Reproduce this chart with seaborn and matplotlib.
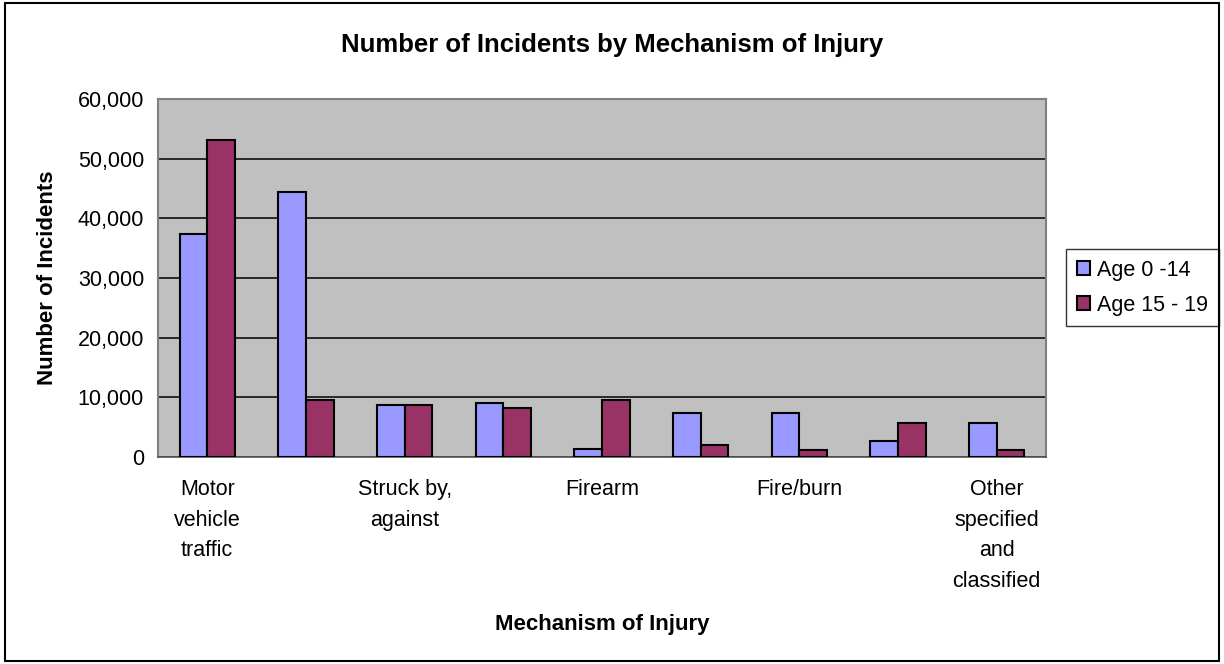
import pandas as pd
import matplotlib.pyplot as plt
import seaborn as sns
from matplotlib.patches import Rectangle

# Data (only every other category is labelled in the original)
mechanisms = ["Motor\nvehicle\ntraffic", "Fall", "Struck by,\nagainst", "Cut/pierce",
              "Firearm", "Pedal cyclist", "Fire/burn", "Poisoning",
              "Other\nspecified\nand\nclassified"]
shown = [True, False, True, False, True, False, True, False, True]
age_0_14 = [37400, 44500, 8700, 9000, 1300, 7300, 7300, 2700, 5700]
age_15_19 = [53200, 9600, 8700, 8300, 9600, 2000, 1200, 5700, 1200]
groups = ["Age 0 -14", "Age 15 - 19"]
colors = ["#9999FF", "#993366"]

df = pd.DataFrame({
    "mechanism": mechanisms * 2,
    "count": age_0_14 + age_15_19,
    "age": [groups[0]] * len(mechanisms) + [groups[1]] * len(mechanisms),
})

sns.set_style("white")
plt.rcParams["font.family"] = ["Liberation Sans", "DejaVu Sans"]
plt.rcParams["text.color"] = "black"
plt.rcParams["axes.labelcolor"] = "black"
plt.rcParams["xtick.color"] = "black"
plt.rcParams["ytick.color"] = "black"

fig = plt.figure(figsize=(12.24, 6.64), dpi=100)
ax = fig.add_axes([0.129, 0.3117, 0.7255, 0.539])
ax.set_facecolor("#C0C0C0")

sns.barplot(data=df, x="mechanism", y="count", hue="age", order=mechanisms,
            hue_order=groups, palette=colors, width=0.56, saturation=1,
            edgecolor="black", linewidth=1.5, ax=ax, zorder=3)

# gridlines and axes
ax.set_ylim(0, 60000)
ax.set_yticks(range(0, 60001, 10000))
ax.set_yticklabels([f"{v:,}" for v in range(0, 60001, 10000)], fontsize=15.5)
ax.yaxis.grid(True, color="black", linewidth=1.1, zorder=1)
ax.set_axisbelow(True)
ax.set_xlim(-0.5, len(mechanisms) - 0.5)

ax.set_xticks(range(len(mechanisms)))
ax.set_xticklabels([m if s else "" for m, s in zip(mechanisms, shown)],
                   fontsize=15.5, linespacing=1.6, va="top")
ax.set_xticks([i - 0.5 for i in range(len(mechanisms) + 1)], minor=True)
ax.tick_params(axis="x", which="major", length=0, pad=16)
ax.tick_params(axis="x", which="minor", length=6, width=1, color="#555555",
               direction="out")
ax.tick_params(axis="y", length=6, width=1, color="#555555", direction="out", pad=4)

for side in ["top", "right", "left"]:
    ax.spines[side].set_color("#808080")
    ax.spines[side].set_linewidth(1.5)
ax.spines["bottom"].set_color("#555555")
ax.spines["bottom"].set_linewidth(1.2)

ax.set_xlabel("Mechanism of Injury", fontsize=16, fontweight="bold", labelpad=16)
ax.set_ylabel("Number of Incidents", fontsize=16, fontweight="bold", labelpad=14)
fig.suptitle("Number of Incidents by Mechanism of Injury", fontsize=18.5,
             fontweight="bold", x=0.5, y=0.95)

# legend at right, like the original
handles, labels = ax.get_legend_handles_labels()
ax.legend(handles, labels, loc="center left", bbox_to_anchor=(0.871, 0.567),
          bbox_transform=fig.transFigure, fontsize=15.5, frameon=True,
          fancybox=False, edgecolor="black", handlelength=0.6,
          handleheight=0.6, handletextpad=0.35, borderpad=0.5,
          labelspacing=0.65, borderaxespad=0)
ax.get_legend().get_frame().set_linewidth(1.0)

# outer chart border
fig.patches.append(Rectangle((0.004, 0.005), 0.992, 0.99, transform=fig.transFigure,
                             fill=False, edgecolor="black", linewidth=1.5))

fig.savefig("out.png", dpi=100, facecolor="white")
